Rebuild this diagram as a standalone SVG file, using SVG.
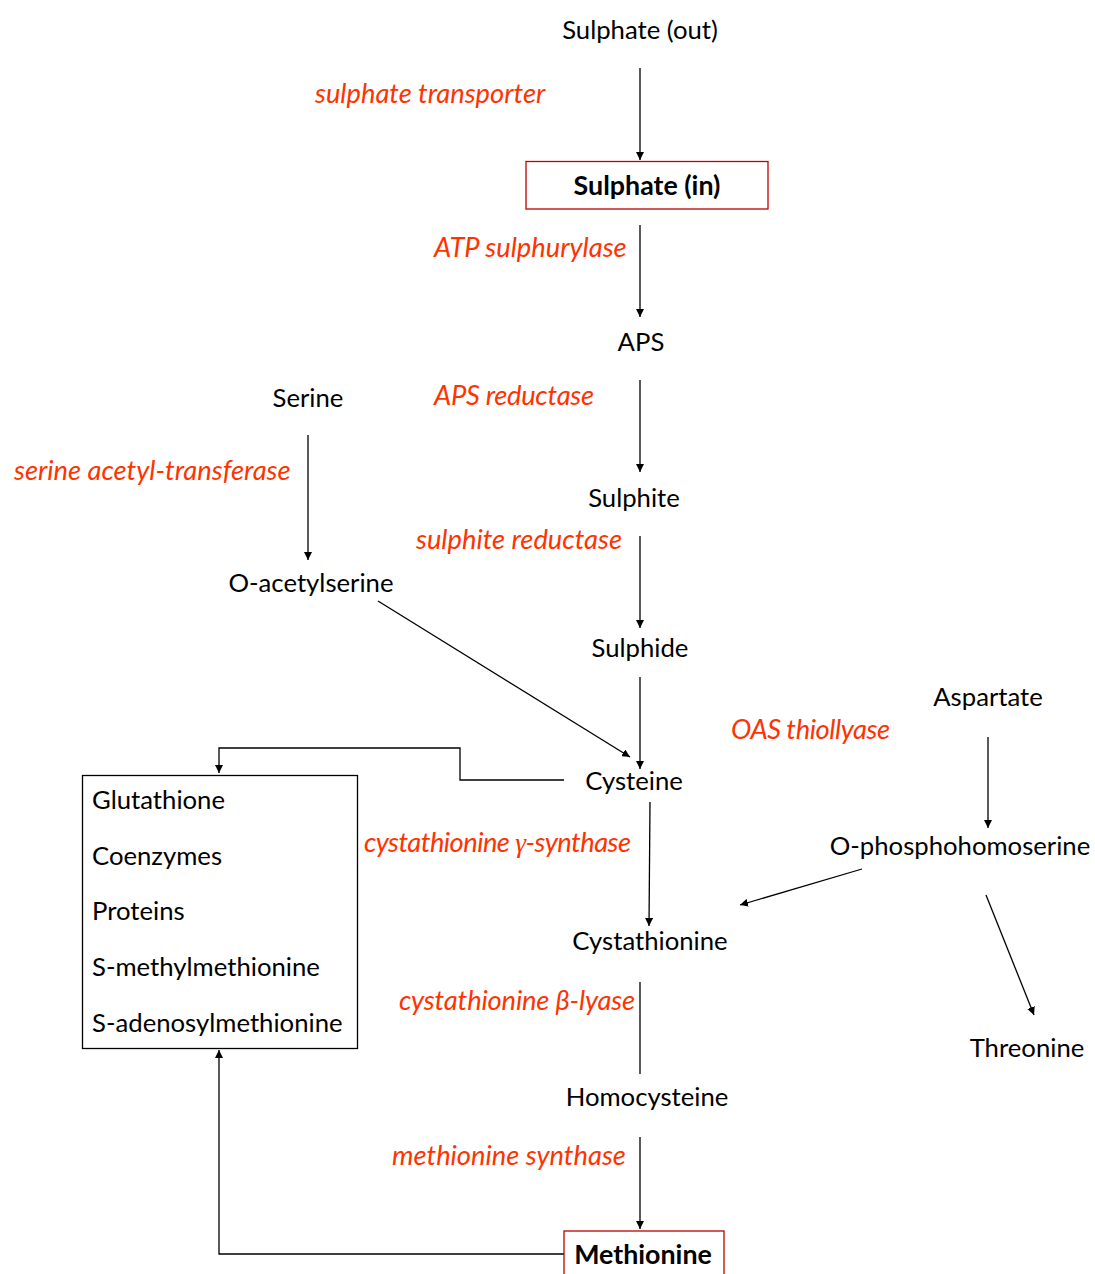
<svg xmlns="http://www.w3.org/2000/svg" width="1095" height="1274" viewBox="0 0 1095 1274">
<defs>
<marker id="ah" viewBox="0 0 10 10" refX="10" refY="5" markerWidth="8" markerHeight="8" markerUnits="userSpaceOnUse" orient="auto">
<path d="M0,0 L10,5 L0,10 z" fill="#000"/>
</marker>
<style>
text{font-family:Lato,"Open Sans","Liberation Sans",sans-serif;font-size:25.7px;fill:#000}
.m{text-anchor:middle}
.e{font-style:italic;fill:#ff3300;font-size:27.3px}
.b{font-weight:bold;font-size:26.8px}
.c{stroke:#000;stroke-width:1.3;fill:none}
.a{marker-end:url(#ah)}
.rb{fill:#fff;stroke:#c00000;stroke-width:1.3}
</style>
</defs>
<rect width="1095" height="1274" fill="#fff"/>
<g id="connectors">
<line class="c a" x1="640" y1="68" x2="640" y2="160"/>
<line class="c a" x1="640" y1="225" x2="640" y2="317"/>
<line class="c a" x1="640" y1="380" x2="640" y2="472"/>
<line class="c a" x1="308" y1="435" x2="308" y2="560"/>
<line class="c a" x1="640" y1="536" x2="640" y2="628"/>
<line class="c a" x1="640" y1="677" x2="640" y2="769"/>
<line class="c a" x1="378" y1="601" x2="630" y2="757"/>
<line class="c a" x1="988" y1="737" x2="988" y2="828"/>
<polyline class="c a" points="564,780 460,780 460,748 219,748 219,773"/>
<line class="c a" x1="650" y1="802" x2="649" y2="926"/>
<line class="c a" x1="862" y1="869" x2="740" y2="905"/>
<line class="c a" x1="986" y1="895" x2="1034" y2="1015"/>
<line class="c" x1="640" y1="982" x2="640" y2="1074"/>
<line class="c a" x1="640" y1="1137" x2="640" y2="1229"/>
<polyline class="c a" points="564,1254 219,1254 219,1050"/>
</g>
<g id="sulphate-out"><text class="m" x="640" y="39">Sulphate (out)</text></g>
<g id="e-transporter"><text class="e" x="315" y="103">sulphate transporter</text></g>
<g id="sulphate-in"><rect class="rb" x="526" y="161.5" width="242" height="47.5"/><text class="m b" x="647" y="195">Sulphate (in)</text></g>
<g id="e-atp"><text class="e" x="434" y="257">ATP sulphurylase</text></g>
<g id="aps"><text class="m" x="641" y="351">APS</text></g>
<g id="e-apsred"><text class="e" x="434" y="405" textLength="160">APS reductase</text></g>
<g id="serine"><text class="m" x="308" y="407">Serine</text></g>
<g id="e-sat"><text class="e" x="14" y="480">serine acetyl-transferase</text></g>
<g id="sulphite"><text class="m" x="634" y="507">Sulphite</text></g>
<g id="e-sir"><text class="e" x="416" y="549">sulphite reductase</text></g>
<g id="oas"><text class="m" x="311" y="592">O-acetylserine</text></g>
<g id="sulphide"><text class="m" x="640" y="657">Sulphide</text></g>
<g id="aspartate"><text class="m" x="988" y="706">Aspartate</text></g>
<g id="e-oastl"><text class="e" x="731" y="739" textLength="159">OAS thiollyase</text></g>
<g id="cysteine"><text class="m" x="634" y="790">Cysteine</text></g>
<g id="products"><rect x="82.5" y="775.5" width="275" height="273" fill="#fff" stroke="#000" stroke-width="1.3"/>
<text x="92" y="809">Glutathione</text>
<text x="92" y="865">Coenzymes</text>
<text x="92" y="920">Proteins</text>
<text x="92" y="976">S-methylmethionine</text>
<text x="92" y="1032">S-adenosylmethionine</text></g>
<g id="e-cgs"><text class="e" x="364" y="852" textLength="267">cystathionine <tspan font-family="'Liberation Serif',serif">γ</tspan>-synthase</text></g>
<g id="ophs"><text class="m" x="960" y="855">O-phosphohomoserine</text></g>
<g id="cystathionine"><text class="m" x="650" y="950">Cystathionine</text></g>
<g id="e-cbl"><text class="e" x="399" y="1010" textLength="236">cystathionine β-lyase</text></g>
<g id="threonine"><text class="m" x="1027" y="1057">Threonine</text></g>
<g id="homocysteine"><text class="m" x="647" y="1106">Homocysteine</text></g>
<g id="e-ms"><text class="e" x="392" y="1165">methionine synthase</text></g>
<g id="methionine"><rect class="rb" x="564" y="1231" width="160" height="50"/><text class="m b" x="643" y="1264">Methionine</text></g>
</svg>
